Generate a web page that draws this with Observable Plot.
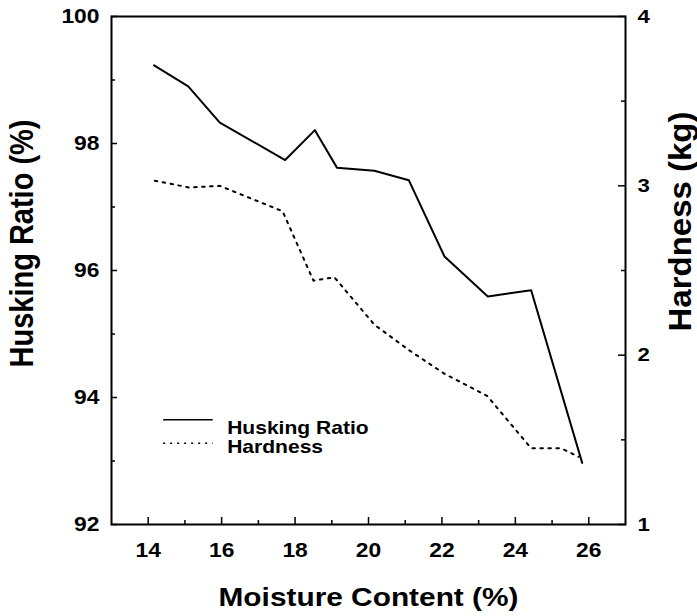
<!DOCTYPE html>
<html><head><meta charset="utf-8">
<script src="https://cdn.jsdelivr.net/npm/d3@7"></script>
<script src="https://cdn.jsdelivr.net/npm/@observablehq/plot@0.6"></script>
<style>
body{margin:0;background:#fff}
#chart svg{font-family:"Liberation Sans",Arial,sans-serif;font-weight:bold}
</style>
</head><body><div id="chart"></div>
<script>
// Husking ratio (%) vs moisture content (%)
const huskX = [14.16, 15.09, 15.95, 17.73, 18.54, 19.14, 20.16, 21.10, 22.07, 23.25, 24.43, 25.82];
const huskRatio = [99.23, 98.90, 98.33, 97.74, 98.21, 97.62, 97.57, 97.42, 96.22, 95.59, 95.69, 92.97];
// Hardness (kg) vs moisture content (%)
const hardX = [14.18, 15.12, 15.95, 17.66, 18.50, 19.07, 20.16, 21.10, 22.07, 23.23, 24.43, 25.25, 25.72];
const hardness = [3.03, 2.99, 3.00, 2.85, 2.44, 2.46, 2.18, 2.03, 1.89, 1.76, 1.45, 1.45, 1.40];

const xMajor = [14, 16, 18, 20, 22, 24, 26];
const xMinor = [15, 17, 19, 21, 23, 25];
const yMajor = [92, 94, 96, 98, 100];
const yMinor = [93, 95, 97, 99];
const hMajor = [1, 2, 3, 4];
const hMinor = [1.5, 2.5, 3.5];
const legendLabels = ["Husking Ratio", "Hardness"];

// hardness (1..4) mapped onto the husking ratio scale (92..100)
const hY = h => 92 + (h - 1) * 8 / 3;
const yH = v => (v - 92) * 3 / 8 + 1;

const huskData = huskX.map((x, i) => ({x, y: huskRatio[i]}));
const hardData = hardX.map((x, i) => ({x, y: hY(hardness[i])}));

const legendRows = [
  {label: legendLabels[0], x1: 14.42, x2: 15.77, tx: 16.15, ly: 93.65, ty: 93.42, dash: null},
  {label: legendLabels[1], x1: 14.42, x2: 15.77, tx: 16.15, ly: 93.28, ty: 93.13, dash: "2,5"}
];

const plot = Plot.plot({
  width: 697,
  height: 616,
  marginLeft: 111,
  marginRight: 72,
  marginTop: 16,
  marginBottom: 92,
  style: {background: "white", color: "black", fontSize: "19px"},
  x: {domain: [13, 27]},
  y: {domain: [92, 100]},
  marks: [
    Plot.frame({stroke: "black", strokeWidth: 2}),
    Plot.axisX(xMajor, {anchor: "bottom", tickSize: -7, tickPadding: 26, fontSize: 19.5, label: null, strokeWidth: 1.5, tickFormat: d3.format("d")}),
    Plot.axisX(xMinor, {anchor: "bottom", tickSize: -4, tickFormat: () => "", label: null, strokeWidth: 1.5}),
    Plot.axisY(yMajor, {anchor: "left", tickSize: -6, tickPadding: 18, fontSize: 19.5, label: null, strokeWidth: 1.5, tickFormat: d3.format("d")}),
    Plot.axisY(yMinor, {anchor: "left", tickSize: -4, tickFormat: () => "", label: null, strokeWidth: 1.5}),
    Plot.axisY(hMajor.map(hY), {anchor: "right", tickSize: -8, tickPadding: 20, fontSize: 19,
      tickFormat: v => d3.format("d")(Math.round(yH(v))), label: null, strokeWidth: 1.5}),
    Plot.axisY(hMinor.map(hY), {anchor: "right", tickSize: -5, tickFormat: () => "", label: null, strokeWidth: 1.5}),
    Plot.line(huskData, {x: "x", y: "y", stroke: "black", strokeWidth: 2}),
    Plot.line(hardData, {x: "x", y: "y", stroke: "black", strokeWidth: 2, strokeDasharray: "2.5,5.5"}),
    Plot.ruleY(legendRows.filter(d => !d.dash), {y: "ly", x1: "x1", x2: "x2", stroke: "black", strokeWidth: 1.5}),
    Plot.ruleY(legendRows.filter(d => d.dash), {y: "ly", x1: "x1", x2: "x2", stroke: "black", strokeWidth: 1.5, strokeDasharray: "2,5"}),
    Plot.text(legendRows, {x: "tx", y: "ty", text: "label", textAnchor: "start", lineAnchor: "bottom", fontSize: 18, fill: "black"}),
    Plot.text(["Moisture Content (%)"], {frameAnchor: "bottom", dy: 81, textAnchor: "middle", lineAnchor: "bottom", fontSize: 25.5, fill: "black"}),
    Plot.text(["Husking Ratio (%)"], {frameAnchor: "left", rotate: -90, dx: -79, dy: -27, textAnchor: "middle", lineAnchor: "bottom", fontSize: 29, fill: "black"}),
    Plot.text(["Hardness (kg)"], {frameAnchor: "right", rotate: -90, dx: 65, dy: -49, textAnchor: "middle", lineAnchor: "bottom", fontSize: 33, fill: "black", className: "rtitle"})
  ]
});

document.getElementById("chart").append(plot);
// the reference typography is horizontally widened: widen glyphs in screen x
const STRETCH = 1.17;
plot.querySelectorAll("text").forEach(t => {
  const tr = t.getAttribute("transform") || "";
  const rotated = /rotate\(\s*-?90/.test(tr);
  const inRight = t.closest(".rtitle");
  const s = inRight ? 0.95 : STRETCH;
  t.setAttribute("transform", tr + (rotated ? ` scale(1,${s})` : ` scale(${s},1)`));
});
</script>
</body></html>
